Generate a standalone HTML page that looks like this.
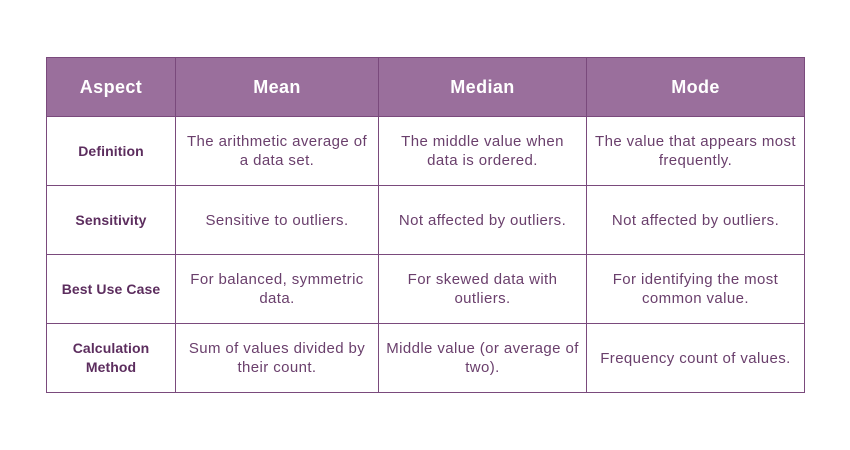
<!DOCTYPE html>
<html><head><style>
body{margin:0;width:850px;height:450px;background:#fff;position:relative;font-family:"Liberation Sans",sans-serif;overflow:hidden}
table{position:absolute;left:46px;top:57px;border-collapse:collapse;table-layout:fixed}
td,th{border:1px solid #7a4a7c;text-align:center;vertical-align:middle;padding:0 2px;font-size:15px;letter-spacing:0.4px;line-height:19px;color:#6a3f6c;white-space:nowrap}
th{background:#9a6f9c;color:#fff;font-size:18px;letter-spacing:0.4px;font-weight:bold;height:58px}
td{height:68px}
td.a{font-weight:bold;color:#5c2d5e;font-size:14px;letter-spacing:0.1px}
</style></head><body>
<table>
<colgroup><col style="width:129px"><col style="width:203px"><col style="width:208px"><col style="width:218px"></colgroup>
<tr><th>Aspect</th><th>Mean</th><th>Median</th><th>Mode</th></tr>
<tr><td class="a">Definition</td><td>The arithmetic average of<br>a data set.</td><td>The middle value when<br>data is ordered.</td><td>The value that appears most<br>frequently.</td></tr>
<tr><td class="a">Sensitivity</td><td>Sensitive to outliers.</td><td>Not affected by outliers.</td><td>Not affected by outliers.</td></tr>
<tr><td class="a">Best Use Case</td><td>For balanced, symmetric<br>data.</td><td>For skewed data with<br>outliers.</td><td>For identifying the most<br>common value.</td></tr>
<tr><td class="a">Calculation<br>Method</td><td>Sum of values divided by<br>their count.</td><td>Middle value (or average of<br>two).</td><td>Frequency count of values.</td></tr>
</table>
</body></html>
